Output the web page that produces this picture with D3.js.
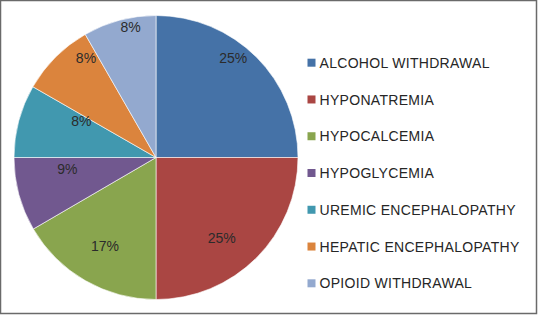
<!DOCTYPE html>
<html>
<head>
<meta charset="utf-8">
<script src="https://cdn.jsdelivr.net/npm/d3@7"></script>
<style>
  html, body { margin: 0; padding: 0; background: #fff; }
  svg { display: block; font-family: "Liberation Sans", Arial, sans-serif; }
</style>
</head>
<body>
<div id="chart"></div>
<script>
// Slice data (share of cases, %)
const categories = [
  "ALCOHOL WITHDRAWAL", "HYPONATREMIA", "HYPOCALCEMIA", "HYPOGLYCEMIA",
  "UREMIC ENCEPHALOPATHY", "HEPATIC ENCEPHALOPATHY", "OPIOID WITHDRAWAL"
];
const values = [25, 25, 16.6, 8.4, 8.3, 8.4, 8.3];
const pctLabels = ["25%", "25%", "17%", "9%", "8%", "8%", "8%"];
const colors = ["#4572A7", "#AA4643", "#89A54E", "#71588F", "#4198AF", "#DB843D", "#93A9CF"];

// label placement (Excel "best fit"): angle in degrees clockwise from 12 o'clock, radius fraction
const labelAngle = [37.7, 140.7, 210, 262.6, 296, 325, 349];
const labelRad = [0.89, 0.73, 0.72, 0.63, 0.585, 0.86, 0.94];

const W = 538, H = 315;
const cx = 156, cy = 157.5, R = 142;

const svg = d3.select("#chart").append("svg")
  .attr("width", W).attr("height", H).attr("viewBox", `0 0 ${W} ${H}`);

svg.append("rect").attr("x", 0.5).attr("y", 0.5).attr("width", W - 2).attr("height", H - 2)
  .attr("fill", "#fff").attr("stroke", "#6a6a6a").attr("stroke-width", 1.5);

const pie = d3.pie().sort(null).value(d => d);
const arcs = pie(values);
const arc = d3.arc().innerRadius(0).outerRadius(R);

const g = svg.append("g").attr("transform", `translate(${cx},${cy})`);
g.selectAll("path.slice").data(arcs).join("path").attr("class", "slice")
  .attr("d", arc)
  .attr("fill", (d, i) => colors[i])
  .attr("stroke", "#fff").attr("stroke-width", 0.6);

g.selectAll("text.pct").data(arcs).join("text").attr("class", "pct")
  .attr("x", (d, i) => Math.sin(labelAngle[i] * Math.PI / 180) * R * labelRad[i])
  .attr("y", (d, i) => -Math.cos(labelAngle[i] * Math.PI / 180) * R * labelRad[i])
  .attr("text-anchor", "middle").attr("dy", "0.36em")
  .attr("font-size", 14).attr("fill", "#2b2b2b")
  .text((d, i) => pctLabels[i]);

// legend
const ly = d3.scalePoint().domain(categories).range([62.7, 283.3]);
const leg = svg.append("g").selectAll("g").data(categories).join("g")
  .attr("transform", d => `translate(307.5,${ly(d)})`);
leg.append("rect").attr("x", 0).attr("y", -4).attr("width", 8).attr("height", 8)
  .attr("fill", (d, i) => colors[i]);
leg.append("text").attr("x", 12).attr("dy", "0.36em")
  .attr("font-size", 14).attr("letter-spacing", 0.3).attr("fill", "#262626")
  .text(d => d);
</script>
</body>
</html>
